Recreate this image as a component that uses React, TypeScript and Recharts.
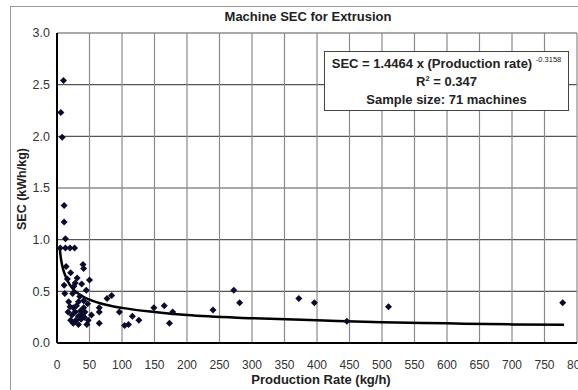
import { ScatterChart, Scatter, XAxis, YAxis, CartesianGrid } from "recharts";

// measured machines: production rate (kg/h) and SEC (kWh/kg)
const rate = [
  10, 6, 8, 11, 11, 13,
  5, 13, 20, 27,
  40, 41, 14, 21, 31, 50, 11, 28, 38, 45, 12, 24, 33, 18, 41, 20, 25, 41, 28, 43, 23, 33, 38, 21, 29, 37, 25, 33, 46,
  77, 84, 65, 65, 65, 96, 104, 110, 116, 126, 149,
  165, 178, 173, 240,
  272, 281, 372, 396, 446, 510, 778,
  16, 26, 35, 47, 30, 17, 42, 48, 53, 36,
];
const sec = [
  2.54, 2.23, 1.99, 1.33, 1.17, 1.01,
  0.92, 0.92, 0.92, 0.92,
  0.76, 0.72, 0.74, 0.68, 0.63, 0.61, 0.56, 0.58, 0.57, 0.51, 0.48, 0.48, 0.4, 0.4, 0.41, 0.35, 0.34, 0.34, 0.3, 0.3, 0.27, 0.26, 0.27, 0.22, 0.22, 0.23, 0.19, 0.18, 0.18,
  0.43, 0.46, 0.34, 0.3, 0.19, 0.3, 0.17, 0.18, 0.26, 0.22, 0.34,
  0.36, 0.3, 0.19, 0.32,
  0.51, 0.39, 0.43, 0.39, 0.21, 0.35, 0.39,
  0.62, 0.55, 0.45, 0.38, 0.36, 0.3, 0.25, 0.22, 0.27, 0.31,
];

// power-law trend line
const fitRate = [4, 6, 8, 10, 15, 20, 30, 40, 50, 75, 100, 150, 200, 300, 400, 500, 600, 700, 780];
const fitSec = [0.93, 0.82, 0.75, 0.7, 0.62, 0.56, 0.49, 0.45, 0.42, 0.37, 0.34, 0.3, 0.27, 0.24, 0.22, 0.2, 0.19, 0.18, 0.177];

const xTicks = [0, 50, 100, 150, 200, 250, 300, 350, 400, 450, 500, 550, 600, 650, 700, 750, 800];
const yTicks = [0, 0.5, 1, 1.5, 2, 2.5, 3];

const points = rate.map((x, i) => ({ x, y: sec[i] }));
const fit = fitRate.map((x, i) => ({ x, y: fitSec[i] }));

const font = "'Liberation Sans', Arial, sans-serif";

const Diamond = (props: any) => {
  const { cx, cy } = props;
  if (cx == null || cy == null) return <g />;
  const r = 3.5;
  return (
    <polygon
      points={`${cx},${cy - r} ${cx + r},${cy} ${cx},${cy + r} ${cx - r},${cy}`}
      fill="#0b0b2e"
    />
  );
};

const NoDot = () => <g />;

export default function App() {
  return (
    <div style={{ position: "absolute", left: 0, top: 0, width: 578, height: 390, fontFamily: font, overflow: "hidden", background: "#fff" }}>
      <div style={{ position: "absolute", left: 10, top: 6, width: 700, height: 500, borderLeft: "1px solid #9a9a9a", borderTop: "1px solid #9a9a9a" }} />
      <ScatterChart
        width={578}
        height={390}
        margin={{ top: 33, right: 1, bottom: 27, left: 17 }}
        style={{ fontFamily: font }}
      >
        <CartesianGrid vertical={false} stroke="#555" strokeWidth={1.2} />
        <CartesianGrid horizontal={false} stroke="#8a8a8a" strokeWidth={1.2} />
        <XAxis
          type="number"
          dataKey="x"
          domain={[0, 800]}
          ticks={xTicks}
          interval={0}
          height={20}
          axisLine={{ stroke: "#000", strokeWidth: 2 }}
          tickLine={false}
          tickSize={15}
          tick={{ fill: "#333", fontSize: 12 }}
        />
        <YAxis
          type="number"
          dataKey="y"
          domain={[0, 3]}
          ticks={yTicks}
          interval={0}
          width={40}
          axisLine={{ stroke: "#000", strokeWidth: 2 }}
          tickLine={false}
          tickSize={6}
          tickMargin={1}
          tickFormatter={(v: number) => v.toFixed(1)}
          tick={{ fill: "#333", fontSize: 12.5 }}
        />
        <Scatter
          data={fit}
          line={{ stroke: "#000", strokeWidth: 2.5 }}
          lineJointType="monotoneX"
          shape={NoDot}
          isAnimationActive={false}
        />
        <Scatter data={points} shape={Diamond} isAnimationActive={false} />
      </ScatterChart>

      <div style={{ position: "absolute", left: 158, top: 9, width: 300, textAlign: "center", fontWeight: "bold", fontSize: 13, color: "#222" }}>
        Machine SEC for Extrusion
      </div>
      <div style={{ position: "absolute", left: 171, top: 372, width: 300, textAlign: "center", fontWeight: "bold", fontSize: 13, color: "#222" }}>
        Production Rate (kg/h)
      </div>
      <div
        style={{
          position: "absolute",
          left: 22 - 60,
          top: 189 - 8,
          width: 120,
          height: 16,
          lineHeight: "16px",
          textAlign: "center",
          fontWeight: "bold",
          fontSize: 12.5,
          color: "#222",
          transform: "rotate(-90deg)",
        }}
      >
        SEC (kWh/kg)
      </div>

      <div
        style={{
          position: "absolute",
          left: 324,
          top: 51,
          width: 245,
          height: 60,
          boxSizing: "border-box",
          border: "1px solid #444",
          background: "#fff",
          paddingTop: 3,
          textAlign: "center",
          fontWeight: "bold",
          fontSize: 13,
          color: "#222",
        }}
      >
        <div style={{ height: 18, lineHeight: "18px" }}>
          SEC = 1.4464 x (Production rate){" "}
          <span style={{ fontSize: 7.5, fontWeight: "normal", lineHeight: 0, position: "relative", top: -6 }}>-0.3158</span>
        </div>
        <div style={{ height: 18, lineHeight: "18px" }}>
          R<span style={{ fontSize: 7.5, lineHeight: 0, position: "relative", top: -5 }}>2</span> = 0.347
        </div>
        <div style={{ height: 18, lineHeight: "18px" }}>Sample size: 71 machines</div>
      </div>
    </div>
  );
}
